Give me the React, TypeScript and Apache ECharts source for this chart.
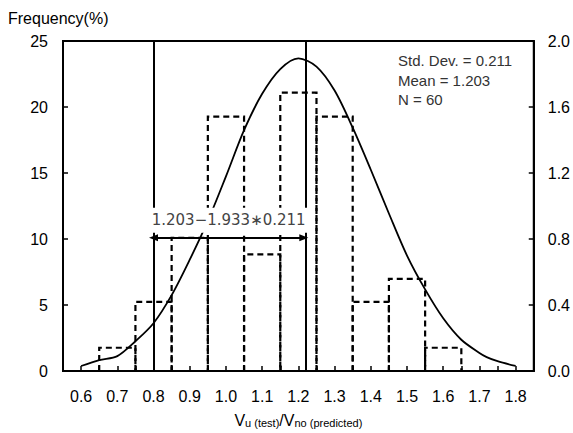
import React, { useEffect, useRef } from "react";
import * as echarts from "echarts";

// Histogram bins (Vu(test)/Vno(predicted)) and frequencies (%)
const binStarts = [0.65, 0.75, 0.85, 0.95, 1.05, 1.15, 1.25, 1.35, 1.45, 1.55];
const binEnds = [0.75, 0.85, 0.95, 1.05, 1.15, 1.25, 1.35, 1.45, 1.55, 1.65];
const frequency = [1.77, 5.24, 10.1, 19.28, 8.84, 21.09, 19.28, 5.24, 6.98, 1.77];

// Fitted normal curve (read on right axis)
const curveX = [0.6, 0.65, 0.7, 0.75, 0.8, 0.85, 0.9, 0.95, 1.0, 1.05, 1.1, 1.15, 1.2, 1.25, 1.3, 1.35, 1.4, 1.45, 1.5, 1.55, 1.6, 1.65, 1.7, 1.72, 1.75, 1.8];
const curveY = [0.031, 0.067, 0.091, 0.181, 0.29, 0.46, 0.675, 0.91, 1.18, 1.46, 1.68, 1.83, 1.895, 1.845, 1.7, 1.475, 1.22, 0.955, 0.7, 0.495, 0.32, 0.19, 0.11, 0.085, 0.06, 0.031];

// Reference lines
const lowerLimitX = 0.8;
const meanLineX = 1.215;
const arrowLevel = 10.1;
const arrowLabel = "1.203\u22121.933\u22170.211";
const statsLines = ["Std. Dev. = 0.211", "Mean = 1.203", "N = 60"];

const leftTicks = { min: 0, max: 25, interval: 5 };
const rightTicks = { min: 0, max: 2, interval: 0.4 };
const xRange = { min: 0.55, max: 1.85, interval: 0.05 };

const FONT = "'Liberation Sans', Arial, Helvetica, sans-serif";

export default function App() {
  const ref = useRef<HTMLDivElement>(null);
  useEffect(() => {
    if (!ref.current) return;
    const chart = echarts.init(ref.current, null, { renderer: "svg" });
    const histData = binStarts.map((s, i) => [s, binEnds[i], frequency[i]]);
    const curveData = curveX.map((x, i) => [x, curveY[i]]);
    const option: any = {
      animation: false,
      backgroundColor: "#fff",
      grid: { left: 63, right: 39, top: 41, bottom: 56, show: true, borderColor: "#000", borderWidth: 2, backgroundColor: "transparent" },
      xAxis: {
        type: "value",
        min: xRange.min,
        max: xRange.max,
        interval: xRange.interval,
        splitLine: { show: false },
        axisLine: { lineStyle: { color: "#000", width: 2 } },
        axisTick: { inside: true, length: 5, lineStyle: { color: "#000", width: 1.5 } },
        axisLabel: {
          color: "#000",
          fontSize: 16,
          fontFamily: FONT,
          margin: 17,
          formatter: (v: number) => {
            const k = Math.round(v * 100);
            return k % 10 === 0 ? (k / 100).toFixed(1) : "";
          },
        },
        name: "{v|V}{s|u (test)}{v|/V}{s|no (predicted)}",
        nameLocation: "middle",
        nameGap: 36,
        nameTextStyle: {
          rich: {
            v: { fontSize: 16, lineHeight: 16, fontFamily: FONT, color: "#000", verticalAlign: "top" },
            s: { fontSize: 11, lineHeight: 11, fontFamily: FONT, color: "#000", verticalAlign: "bottom", padding: [8, 0, 0, 0] },
          },
        },
      },
      yAxis: [
        {
          type: "value",
          min: leftTicks.min,
          max: leftTicks.max,
          interval: leftTicks.interval,
          splitLine: { show: false },
          axisLine: { show: true, lineStyle: { color: "#000", width: 2 } },
          axisTick: { show: true, inside: true, length: 5, lineStyle: { color: "#000", width: 1.5 } },
          axisLabel: { color: "#000", fontSize: 16, fontFamily: FONT, margin: 15 },
        },
        {
          type: "value",
          position: "right",
          min: rightTicks.min,
          max: rightTicks.max,
          interval: rightTicks.interval,
          splitLine: { show: false },
          axisLine: { show: true, lineStyle: { color: "#000", width: 2 } },
          axisTick: { show: true, inside: true, length: 5, lineStyle: { color: "#000", width: 1.5 } },
          axisLabel: { color: "#000", fontSize: 16, fontFamily: FONT, margin: 14, formatter: (v: number) => v.toFixed(1) },
        },
      ],
      series: [
        {
          type: "custom",
          name: "hist",
          xAxisIndex: 0,
          yAxisIndex: 0,
          data: histData,
          renderItem: (_params: any, api: any) => {
            const x0 = api.value(0);
            const x1 = api.value(1);
            const h = api.value(2);
            const a = api.coord([x0, 0]);
            const b = api.coord([x0, h]);
            const c = api.coord([x1, h]);
            const d = api.coord([x1, 0]);
            return {
              type: "polyline",
              shape: { points: [a, b, c, d] },
              style: { fill: "none", stroke: "#000", lineWidth: 2.2, lineDash: [6, 4] },
            };
          },
          z: 2,
        },
        {
          type: "line",
          name: "normal",
          xAxisIndex: 0,
          yAxisIndex: 1,
          data: curveData,
          smooth: 0.3,
          showSymbol: false,
          symbol: "none",
          lineStyle: { color: "#000", width: 1.8 },
          z: 3,
        },
        {
          type: "line",
          name: "refs",
          xAxisIndex: 0,
          yAxisIndex: 0,
          data: [],
          z: 4,
          markLine: {
            silent: true,
            animation: false,
            symbol: ["none", "none"],
            lineStyle: { color: "#000", width: 2, type: "solid" },
            label: { show: false },
            data: [
              { xAxis: lowerLimitX },
              { xAxis: meanLineX },
              [
                {
                  coord: [lowerLimitX, arrowLevel],
                  symbol: "triangle",
                  symbolSize: [7, 9],
                  label: {
                    show: true,
                    position: "middle",
                    distance: 5,
                    formatter: arrowLabel,
                    color: "#444",
                    fontSize: 15,
                    fontFamily: "'DejaVu Sans', sans-serif",
                    backgroundColor: "#fff",
                    padding: [5, 4, 5, 4],
                  },
                },
                { coord: [meanLineX, arrowLevel], symbol: "triangle", symbolSize: [7, 9] },
              ],
            ],
          },
        },
      ],
      graphic: [
        {
          type: "text",
          left: 8,
          top: 10,
          style: { text: "Frequency(%)", fontSize: 16, fontFamily: FONT, fill: "#000" },
        },
        {
          type: "text",
          left: 398,
          top: 51,
          style: { text: statsLines.join("\n"), fontSize: 15, lineHeight: 19.5, fontFamily: FONT, fill: "#333" },
        },
      ],
    };
    chart.setOption(option);
    return () => chart.dispose();
  }, []);
  return <div ref={ref} style={{ position: "fixed", left: 0, top: 0, width: 573, height: 433 }} />;
}
